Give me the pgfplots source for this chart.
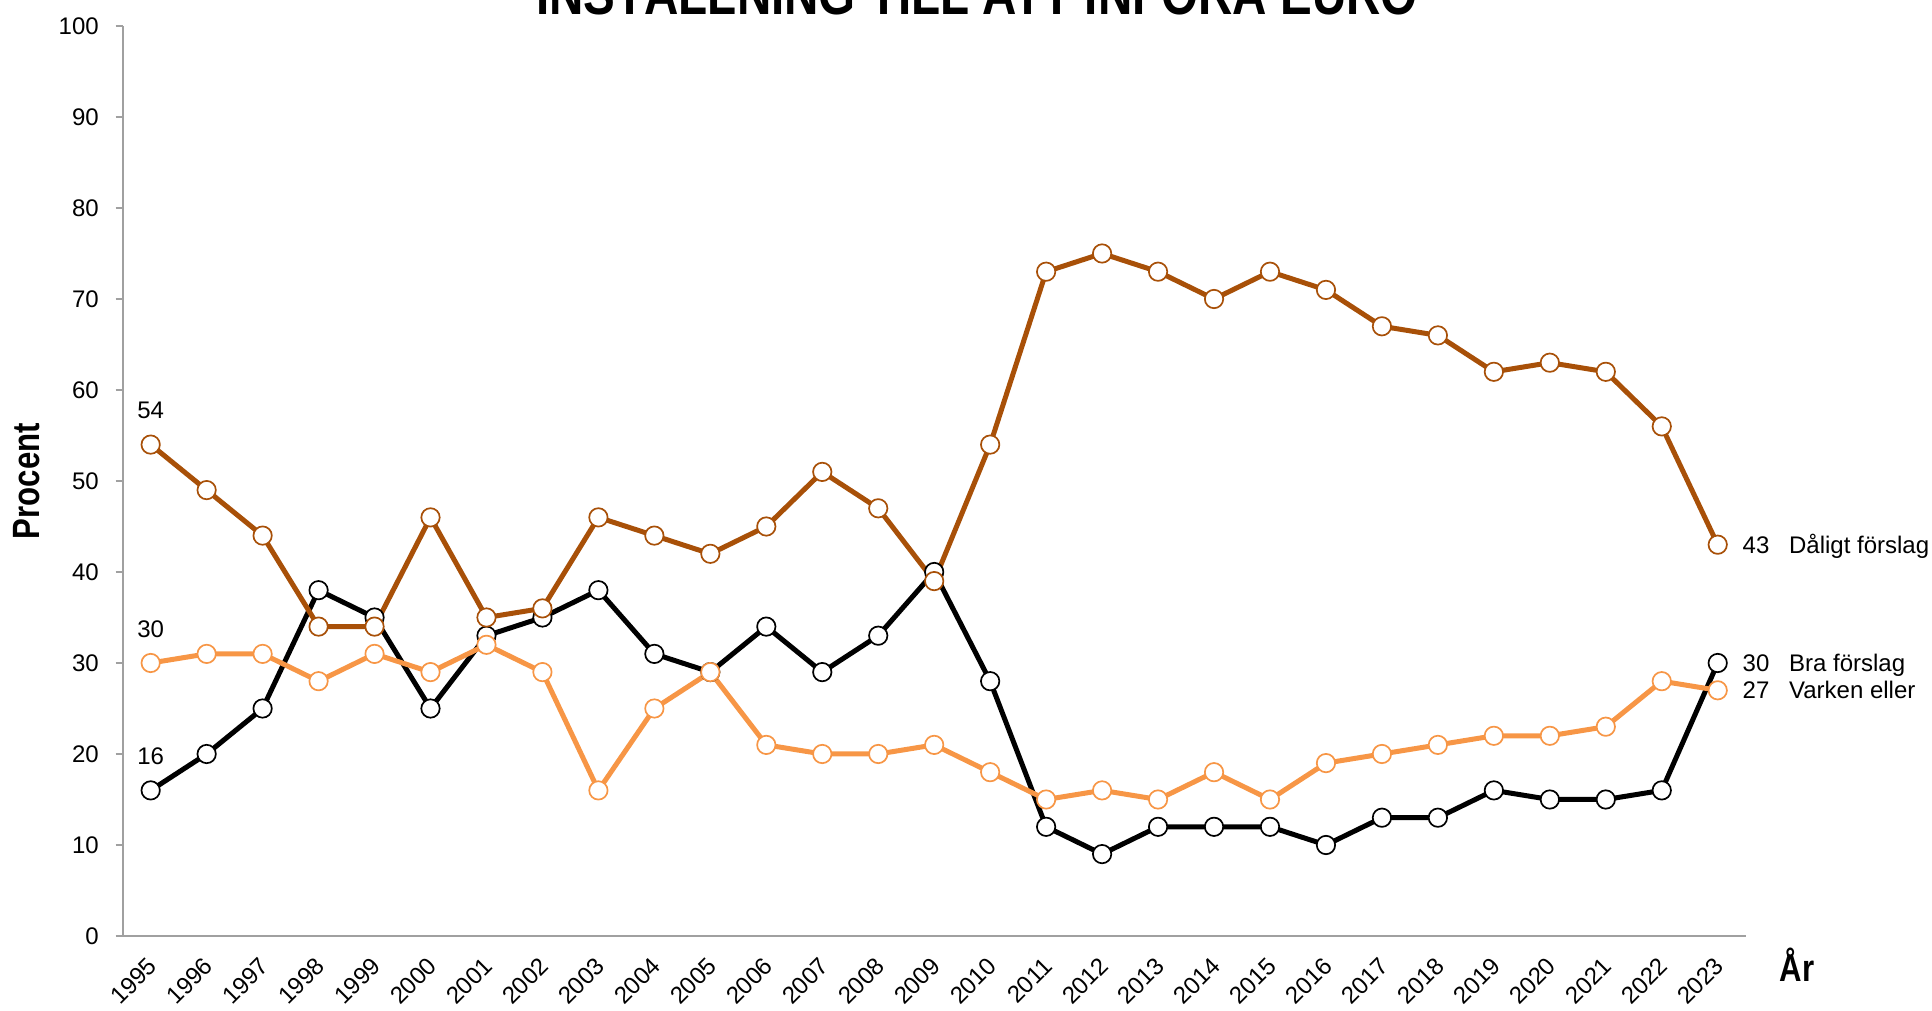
\documentclass[border=0pt]{standalone}
\usepackage{fontspec}
\setmainfont{Liberation Sans}
\newfontfamily\narrowfont[FakeStretch=0.82]{Liberation Sans}
\usepackage{pgfplots}
\usepackage{pgfplotstable}
\pgfplotsset{compat=1.18}
\definecolor{dalig}{RGB}{168,80,8}
\definecolor{varken}{RGB}{247,150,70}
\definecolor{axgray}{RGB}{160,160,160}

\pgfplotstableread{
year bra varken dalig
1995 16 30 54
1996 20 31 49
1997 25 31 44
1998 38 28 34
1999 35 31 34
2000 25 29 46
2001 33 32 35
2002 35 29 36
2003 38 16 46
2004 31 25 44
2005 29 29 42
2006 34 21 45
2007 29 20 51
2008 33 20 47
2009 40 21 39
2010 28 18 54
2011 12 15 73
2012 9 16 75
2013 12 15 73
2014 12 18 70
2015 12 15 73
2016 10 19 71
2017 13 20 67
2018 13 21 66
2019 16 22 62
2020 15 22 63
2021 15 23 62
2022 16 28 56
2023 30 27 43
}\data

\begin{document}
\begin{tikzpicture}
\begin{axis}[
  scale only axis, width=811.5pt, height=455pt,
  at={(0,0)}, anchor=south west,
  xmin=1994.5, xmax=2023.5, ymin=0, ymax=100,
  axis x line=bottom, axis y line=left,
  axis line style={-, draw=axgray, line width=1pt},
  xtick={1995,...,2023},
  minor xtick={1994.5,1995.5,...,2023.5},
  ytick={0,10,...,100},
  tick align=outside,
  major tick length=3.5pt, minor tick length=4pt,
  xtick style={draw=none},
  ytick style={draw=axgray, line width=1pt},
  minor tick style={draw=axgray, line width=1pt},
  /pgf/number format/1000 sep={},
  /pgf/number format/assume math mode=true,
  ticklabel style={font=\fontsize{12}{14}\selectfont},
  yticklabel style={anchor=east, inner sep=0pt, xshift=-8.3pt},
  xticklabel style={rotate=45, anchor=north east, inner sep=0pt, xshift=-5.9pt, yshift=-3pt},
  ylabel={Procent},
  ylabel style={font=\narrowfont\bfseries\fontsize{19}{22}\selectfont, at={(axis description cs:-0.059,0.5)}, anchor=center},
  xlabel={År},
  xlabel style={font=\narrowfont\bfseries\fontsize{19}{22}\selectfont, at={(axis description cs:1.0316,-0.0505)}, anchor=base},
  clip=false,
]
\addplot[black, line width=2.5pt, line join=round, mark=*, mark size=4.6pt, mark options={fill=white, draw=black, line width=0.85pt}] table[x=year,y=bra]{\data};
\addplot[varken, line width=2.5pt, line join=round, mark=*, mark size=4.6pt, mark options={fill=white, draw=varken, line width=0.85pt}] table[x=year,y=varken]{\data};
\addplot[dalig, line width=2.5pt, line join=round, mark=*, mark size=4.6pt, mark options={fill=white, draw=dalig, line width=0.85pt}] table[x=year,y=dalig]{\data};

\node[font=\fontsize{12}{14}\selectfont, yshift=17pt] at (axis cs:1995,54) {54};
\node[font=\fontsize{12}{14}\selectfont, yshift=17pt] at (axis cs:1995,30) {30};
\node[font=\fontsize{12}{14}\selectfont, yshift=17pt] at (axis cs:1995,16) {16};

\node[font=\fontsize{12}{14}\selectfont, anchor=base west, inner sep=0pt, xshift=12.3pt, yshift=-4.3pt] at (axis cs:2023,43) {43};
\node[font=\fontsize{12}{14}\selectfont, anchor=base west, inner sep=0pt, xshift=35.5pt, yshift=-4.3pt] at (axis cs:2023,43) {Dåligt förslag};
\node[font=\fontsize{12}{14}\selectfont, anchor=base west, inner sep=0pt, xshift=12.3pt, yshift=-4.3pt] at (axis cs:2023,30) {30};
\node[font=\fontsize{12}{14}\selectfont, anchor=base west, inner sep=0pt, xshift=35.5pt, yshift=-4.3pt] at (axis cs:2023,30) {Bra förslag};
\node[font=\fontsize{12}{14}\selectfont, anchor=base west, inner sep=0pt, xshift=12.3pt, yshift=-4.3pt] at (axis cs:2023,27) {27};
\node[font=\fontsize{12}{14}\selectfont, anchor=base west, inner sep=0pt, xshift=35.5pt, yshift=-4.3pt] at (axis cs:2023,27) {Varken eller};
\end{axis}
\node[font=\narrowfont\bfseries\fontsize{29}{34}\selectfont, anchor=base] at (427.15pt,460.5pt) {INSTÄLLNING TILL ATT INFÖRA EURO};
\pgfresetboundingbox
\useasboundingbox (-61.35pt,-37.5pt) rectangle (904.65pt,468pt);
\end{tikzpicture}
\end{document}
